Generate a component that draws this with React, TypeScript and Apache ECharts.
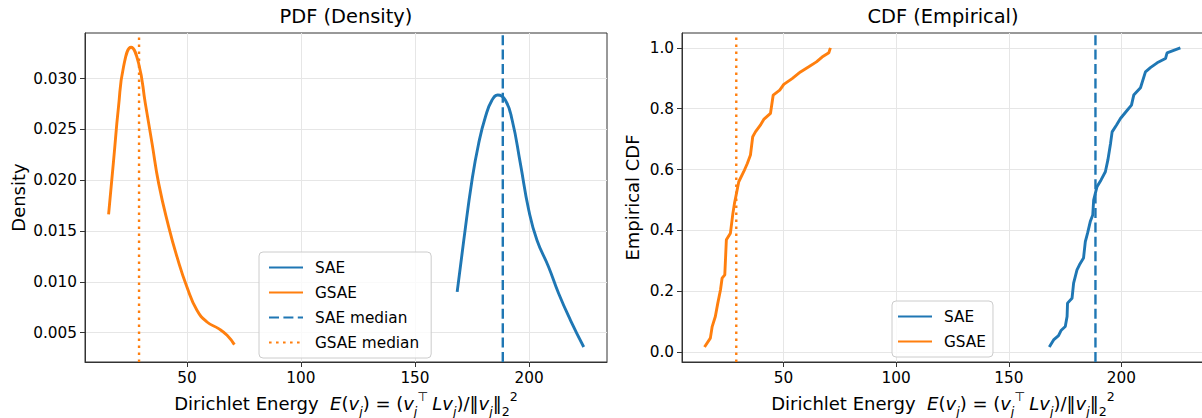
import React, { useEffect, useRef } from 'react';
import * as echarts from 'echarts';

// ---------- data ----------
const X_TICKS = [50, 100, 150, 200];
const PDF_Y_TICKS = [0.005, 0.01, 0.015, 0.02, 0.025, 0.03];
const CDF_Y_TICKS = [0, 0.2, 0.4, 0.6, 0.8, 1.0];

// KDE density curves (PDF)
const pdfSaeX = [168.5, 171.4, 175.0, 177.9, 180.9, 183.8, 186.3, 189.6, 192.6, 196.2, 199.9, 203.5, 208.6, 213.0, 218.2, 224.0];
const pdfSaeY = [0.0090, 0.0141, 0.0200, 0.0236, 0.02625, 0.0279, 0.02839, 0.0279, 0.02593, 0.02166, 0.01705, 0.0141, 0.01146, 0.00884, 0.00621, 0.00358];
const pdfGsaeX = [15.65, 17.85, 20.0, 22.2, 25.5, 28.8, 31.75, 34.7, 37.6, 42.0, 45.65, 50.0, 54.4, 58.8, 63.9, 67.6, 70.8];
const pdfGsaeY = [0.01663, 0.02198, 0.02724, 0.03118, 0.03309, 0.03152, 0.02757, 0.02363, 0.01969, 0.01541, 0.01245, 0.00949, 0.00719, 0.00604, 0.00539, 0.00473, 0.00381];

// Empirical CDF curves
const cdfSaeX = [168.0, 169.9, 172.1, 173.2, 175.1, 175.9, 176.1, 178.1, 178.8, 180.3, 181.4, 183.2, 184.0, 185.0, 186.2, 187.3, 187.7, 189.2, 191.0, 192.9, 194.0, 195.2, 195.9, 197.8, 199.6, 202.6, 204.5, 205.5, 208.5, 210.7, 212.9, 215.9, 219.6, 220.3, 226.2];
const cdfSaeP = [0.0167, 0.040, 0.054, 0.071, 0.084, 0.117, 0.161, 0.177, 0.227, 0.270, 0.287, 0.309, 0.363, 0.391, 0.429, 0.451, 0.500, 0.544, 0.566, 0.593, 0.631, 0.686, 0.724, 0.746, 0.768, 0.795, 0.812, 0.845, 0.869, 0.921, 0.935, 0.951, 0.965, 0.984, 1.0];
const cdfGsaeX = [14.9, 17.5, 18.3, 19.7, 20.8, 22.0, 22.7, 23.9, 24.6, 26.4, 27.5, 28.2, 29.1, 30.1, 32.3, 33.9, 35.3, 36.3, 37.5, 39.7, 41.2, 44.2, 45.4, 48.3, 50.1, 53.8, 57.5, 61.2, 64.6, 67.1, 70.1, 70.8];
const cdfGsaeP = [0.0167, 0.046, 0.084, 0.117, 0.161, 0.205, 0.243, 0.254, 0.369, 0.391, 0.456, 0.489, 0.522, 0.560, 0.593, 0.620, 0.648, 0.708, 0.724, 0.746, 0.765, 0.785, 0.845, 0.861, 0.880, 0.899, 0.921, 0.938, 0.954, 0.970, 0.984, 1.0];

const SAE_MEDIAN = 188.5;
const GSAE_MEDIAN = 29.0;

// axis limits
const PDF_X = [5.3, 234.2];
const PDF_Y = [0.0021, 0.0345];
const CDF_X = [4.9, 236.7];
const CDF_Y = [-0.0325, 1.049];

// ---------- style ----------
const FONT = 'DejaVu Sans';
const BLUE = '#1f77b4';
const ORANGE = '#ff7f0e';
const SPINE = '#333333';
const GRIDC = '#e6e6e6';

const XLABEL =
  '{n|Dirichlet Energy  }{i|E}{n|(}{i|v}{s|j}{n|) = (}{i|v}{s|j}{p|⊤}{i|Lv}{s|j}{n|)/‖}{i|v}{s|j}{n|‖}{d|2}{q|2}';

const richLabel = {
  n: { fontFamily: FONT, fontSize: 18, color: '#000', lineHeight: 28 },
  i: { fontFamily: FONT, fontSize: 18, color: '#000', fontStyle: 'italic', lineHeight: 28 },
  s: { fontFamily: FONT, fontSize: 12.6, color: '#000', fontStyle: 'italic', verticalAlign: 'bottom', lineHeight: 14 },
  d: { fontFamily: FONT, fontSize: 12.6, color: '#000', verticalAlign: 'bottom', lineHeight: 14 },
  p: { fontFamily: FONT, fontSize: 12.6, color: '#000', verticalAlign: 'top', lineHeight: 14, padding: [0, 4, 0, 0] },
  q: { fontFamily: FONT, fontSize: 12.6, color: '#000', verticalAlign: 'top', lineHeight: 14 },
};

const zip = (xs: number[], ys: number[]) => xs.map((x, i) => [x, ys[i]]);

function xAxisOf(grid: number, lim: number[]) {
  return {
    type: 'value',
    gridIndex: grid,
    min: lim[0],
    max: lim[1],
    axisLine: { show: true, onZero: false, lineStyle: { color: SPINE, width: 1 } },
    axisTick: { show: true, length: 5, customValues: X_TICKS, lineStyle: { color: SPINE } },
    axisLabel: {
      customValues: X_TICKS,
      fontSize: 15.3,
      color: '#000',
      fontFamily: FONT,
      margin: 8,
      formatter: (v: number) => String(Math.round(v)),
    },
    splitLine: { show: true, lineStyle: { color: GRIDC, width: 1 } },
    name: XLABEL,
    nameLocation: 'middle',
    nameGap: 24,
    nameTextStyle: { fontFamily: FONT, fontSize: 18, color: '#000', lineHeight: 28, rich: richLabel },
  };
}

function yAxisOf(grid: number, lim: number[], ticks: number[], digits: number, name: string, gap: number) {
  return {
    type: 'value',
    gridIndex: grid,
    min: lim[0],
    max: lim[1],
    axisLine: { show: true, onZero: false, lineStyle: { color: SPINE, width: 1 } },
    axisTick: { show: true, length: 5, customValues: ticks, lineStyle: { color: SPINE } },
    axisLabel: {
      customValues: ticks,
      fontSize: 15.3,
      color: '#000',
      fontFamily: FONT,
      margin: 8,
      formatter: (v: number) => v.toFixed(digits),
    },
    splitLine: { show: true, lineStyle: { color: GRIDC, width: 1 } },
    name,
    nameLocation: 'middle',
    nameGap: gap,
    nameTextStyle: { fontFamily: FONT, fontSize: 18, color: '#000' },
  };
}

const curveWidth = 2.9;
const medWidth = 2.4;
const DASHED = [10, 4.4];
const DOTTED = [2.6, 4.4];

const legendBase = {
  orient: 'vertical',
  itemWidth: 34,
  itemHeight: 14,
  itemGap: 10,
  backgroundColor: 'rgba(255,255,255,0.8)',
  borderColor: '#cccccc',
  borderWidth: 1,
  borderRadius: 4,
  itemStyle: { opacity: 0 },
  textStyle: { fontFamily: FONT, fontSize: 15.3, color: '#000', padding: [0, 0, 0, 7] },
};

export default function App() {
  const ref = useRef<HTMLDivElement>(null);
  useEffect(() => {
    if (!ref.current) return;
    const chart = echarts.init(ref.current, null, { renderer: 'svg' });
    const option: any = {
      animation: false,
      backgroundColor: '#ffffff',
      title: [
        {
          text: 'PDF (Density)', left: 346, top: 7, textAlign: 'center', padding: 0,
          textStyle: { fontFamily: FONT, fontSize: 19.4, fontWeight: 'normal', color: '#000' },
        },
        {
          text: 'CDF (Empirical)', left: 943, top: 7, textAlign: 'center', padding: 0,
          textStyle: { fontFamily: FONT, fontSize: 19.4, fontWeight: 'normal', color: '#000' },
        },
      ],
      grid: [
        { left: 85, top: 33, width: 522, height: 329, show: true, borderColor: SPINE, borderWidth: 1, containLabel: false, outerBoundsMode: 'none' },
        { left: 682, top: 33, width: 522, height: 329, show: true, borderColor: SPINE, borderWidth: 1, containLabel: false, outerBoundsMode: 'none' },
      ],
      xAxis: [xAxisOf(0, PDF_X), xAxisOf(1, CDF_X)],
      yAxis: [
        yAxisOf(0, PDF_Y, PDF_Y_TICKS, 3, 'Density', 58),
        yAxisOf(1, CDF_Y, CDF_Y_TICKS, 1, 'Empirical CDF', 41),
      ],
      legend: [
        {
          ...legendBase,
          left: 259, top: 252,
          padding: [8, 12, 8, 9],
          data: ['SAE', 'GSAE', 'SAE median', 'GSAE median'],
        },
        {
          ...legendBase,
          left: 892, top: 301,
          padding: [8, 7, 8, 5],
          data: ['SAE', 'GSAE'],
        },
      ],
      series: [
        {
          type: 'line', name: 'SAE', xAxisIndex: 0, yAxisIndex: 0, data: zip(pdfSaeX, pdfSaeY),
          smooth: true, symbol: 'none', lineStyle: { color: BLUE, width: curveWidth }, itemStyle: { color: BLUE },
        },
        {
          type: 'line', name: 'GSAE', xAxisIndex: 0, yAxisIndex: 0, data: zip(pdfGsaeX, pdfGsaeY),
          smooth: true, symbol: 'none', lineStyle: { color: ORANGE, width: curveWidth }, itemStyle: { color: ORANGE },
        },
        {
          type: 'line', name: 'SAE median', xAxisIndex: 0, yAxisIndex: 0,
          data: [[SAE_MEDIAN, PDF_Y[0]], [SAE_MEDIAN, PDF_Y[1]]],
          symbol: 'none', lineStyle: { color: BLUE, width: medWidth, type: DASHED }, itemStyle: { color: BLUE },
        },
        {
          type: 'line', name: 'GSAE median', xAxisIndex: 0, yAxisIndex: 0,
          data: [[GSAE_MEDIAN, PDF_Y[0]], [GSAE_MEDIAN, PDF_Y[1]]],
          symbol: 'none', lineStyle: { color: ORANGE, width: medWidth, type: DOTTED }, itemStyle: { color: ORANGE },
        },
        {
          type: 'line', name: 'SAE', xAxisIndex: 1, yAxisIndex: 1, data: zip(cdfSaeX, cdfSaeP),
          symbol: 'none', lineStyle: { color: BLUE, width: curveWidth }, itemStyle: { color: BLUE },
        },
        {
          type: 'line', name: 'GSAE', xAxisIndex: 1, yAxisIndex: 1, data: zip(cdfGsaeX, cdfGsaeP),
          symbol: 'none', lineStyle: { color: ORANGE, width: curveWidth }, itemStyle: { color: ORANGE },
        },
        {
          type: 'line', name: 'SAE median', xAxisIndex: 1, yAxisIndex: 1,
          data: [[SAE_MEDIAN, CDF_Y[0]], [SAE_MEDIAN, CDF_Y[1]]],
          symbol: 'none', lineStyle: { color: BLUE, width: medWidth, type: DASHED }, itemStyle: { color: BLUE },
        },
        {
          type: 'line', name: 'GSAE median', xAxisIndex: 1, yAxisIndex: 1,
          data: [[GSAE_MEDIAN, CDF_Y[0]], [GSAE_MEDIAN, CDF_Y[1]]],
          symbol: 'none', lineStyle: { color: ORANGE, width: medWidth, type: DOTTED }, itemStyle: { color: ORANGE },
        },
      ],
    };
    chart.setOption(option);
    return () => chart.dispose();
  }, []);
  return (
    <div
      ref={ref}
      style={{ position: 'fixed', left: 0, top: 0, width: 1202, height: 418, background: '#fff' }}
    />
  );
}
